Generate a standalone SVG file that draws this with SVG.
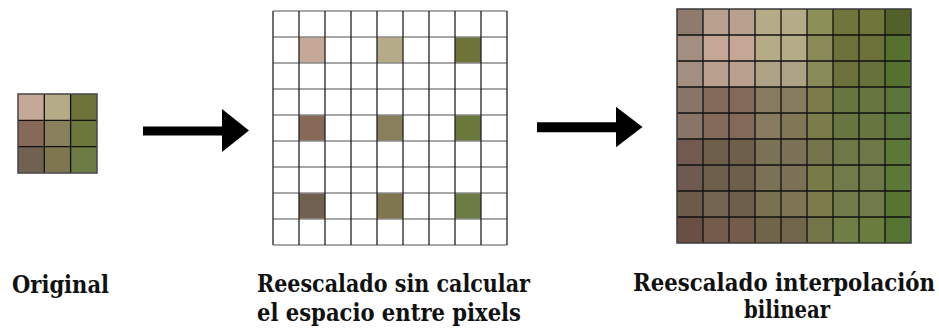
<svg xmlns="http://www.w3.org/2000/svg" width="939" height="329" viewBox="0 0 939 329">
<style>
.lbl{font-family:"DejaVu Serif","Liberation Serif",serif;font-weight:bold;font-size:24px;fill:#111}
.vl{stroke:#222;stroke-width:1.3}
.hl{stroke:#8a8a8a;stroke-width:1.3}
.bl{stroke:#111;stroke-width:1.3}
.arrow{fill:#000}
</style>
<rect width="939" height="329" fill="#fff"/>
<g id="original">
<rect x="18" y="94" width="26.3" height="26.3" fill="#c5a898"/>
<rect x="44.3" y="94" width="26.3" height="26.3" fill="#b6ab87"/>
<rect x="70.6" y="94" width="26.3" height="26.3" fill="#6e7339"/>
<rect x="18" y="120.3" width="26.3" height="26.3" fill="#87695a"/>
<rect x="44.3" y="120.3" width="26.3" height="26.3" fill="#88805c"/>
<rect x="70.6" y="120.3" width="26.3" height="26.3" fill="#6b783c"/>
<rect x="18" y="146.6" width="26.3" height="26.3" fill="#706150"/>
<rect x="44.3" y="146.6" width="26.3" height="26.3" fill="#7f7650"/>
<rect x="70.6" y="146.6" width="26.3" height="26.3" fill="#6b7c44"/>
<path class="bl" d="M44.3 94V173M70.6 94V173M18 120.3H97M18 146.6H97"/>
<rect x="18" y="94" width="79" height="79" fill="none" stroke="#444" stroke-width="1.5"/>
</g>
<g id="sparse">
<rect x="273" y="11" width="234" height="234" fill="#fff"/>
<rect x="299" y="37" width="26" height="26" fill="#c5a898"/>
<rect x="377" y="37" width="26" height="26" fill="#b6ab87"/>
<rect x="455" y="37" width="26" height="26" fill="#6e7339"/>
<rect x="299" y="115" width="26" height="26" fill="#87695a"/>
<rect x="377" y="115" width="26" height="26" fill="#88805c"/>
<rect x="455" y="115" width="26" height="26" fill="#6b783c"/>
<rect x="299" y="193" width="26" height="26" fill="#706150"/>
<rect x="377" y="193" width="26" height="26" fill="#7f7650"/>
<rect x="455" y="193" width="26" height="26" fill="#6b7c44"/>
<path class="hl" d="M273 11H507M273 37H507M273 63H507M273 89H507M273 115H507M273 141H507M273 167H507M273 193H507M273 219H507M273 245H507"/>
<path class="vl" d="M273 11V245M299 11V245M325 11V245M351 11V245M377 11V245M403 11V245M429 11V245M455 11V245M481 11V245M507 11V245"/>
</g>
<g id="bilinear">
<g>
<rect x="677" y="9" width="26" height="26" fill="#8f7b6e"/><rect x="703" y="9" width="26" height="26" fill="#b8a18f"/><rect x="729" y="9" width="26" height="26" fill="#b8a18f"/><rect x="755" y="9" width="26" height="26" fill="#b6ab87"/><rect x="781" y="9" width="26" height="26" fill="#b6ab87"/><rect x="807" y="9" width="26" height="26" fill="#8c8f58"/><rect x="833" y="9" width="26" height="26" fill="#6f763c"/><rect x="859" y="9" width="26" height="26" fill="#6f763c"/><rect x="885" y="9" width="26" height="26" fill="#526129"/>
<rect x="677" y="35" width="26" height="26" fill="#a48e82"/><rect x="703" y="35" width="26" height="26" fill="#c4a796"/><rect x="729" y="35" width="26" height="26" fill="#c4a796"/><rect x="755" y="35" width="26" height="26" fill="#b6ab87"/><rect x="781" y="35" width="26" height="26" fill="#b6ab87"/><rect x="807" y="35" width="26" height="26" fill="#8a8a58"/><rect x="833" y="35" width="26" height="26" fill="#6b7139"/><rect x="859" y="35" width="26" height="26" fill="#6b7139"/><rect x="885" y="35" width="26" height="26" fill="#55702f"/>
<rect x="677" y="61" width="26" height="26" fill="#a48e82"/><rect x="703" y="61" width="26" height="26" fill="#b9a08f"/><rect x="729" y="61" width="26" height="26" fill="#b9a08f"/><rect x="755" y="61" width="26" height="26" fill="#ada284"/><rect x="781" y="61" width="26" height="26" fill="#ada284"/><rect x="807" y="61" width="26" height="26" fill="#888a58"/><rect x="833" y="61" width="26" height="26" fill="#6b7139"/><rect x="859" y="61" width="26" height="26" fill="#67713a"/><rect x="885" y="61" width="26" height="26" fill="#55702f"/>
<rect x="677" y="87" width="26" height="26" fill="#8a7468"/><rect x="703" y="87" width="26" height="26" fill="#82695a"/><rect x="729" y="87" width="26" height="26" fill="#82695a"/><rect x="755" y="87" width="26" height="26" fill="#867a5f"/><rect x="781" y="87" width="26" height="26" fill="#867a5f"/><rect x="807" y="87" width="26" height="26" fill="#7b7c4a"/><rect x="833" y="87" width="26" height="26" fill="#677640"/><rect x="859" y="87" width="26" height="26" fill="#677640"/><rect x="885" y="87" width="26" height="26" fill="#5a753a"/>
<rect x="677" y="113" width="26" height="26" fill="#8a7468"/><rect x="703" y="113" width="26" height="26" fill="#82695a"/><rect x="729" y="113" width="26" height="26" fill="#82695a"/><rect x="755" y="113" width="26" height="26" fill="#867a5f"/><rect x="781" y="113" width="26" height="26" fill="#807757"/><rect x="807" y="113" width="26" height="26" fill="#7b7c4a"/><rect x="833" y="113" width="26" height="26" fill="#677640"/><rect x="859" y="113" width="26" height="26" fill="#677640"/><rect x="885" y="113" width="26" height="26" fill="#5a753a"/>
<rect x="677" y="139" width="26" height="26" fill="#735a50"/><rect x="703" y="139" width="26" height="26" fill="#6d5f4c"/><rect x="729" y="139" width="26" height="26" fill="#6d5f4c"/><rect x="755" y="139" width="26" height="26" fill="#7a7156"/><rect x="781" y="139" width="26" height="26" fill="#7a7156"/><rect x="807" y="139" width="26" height="26" fill="#75744d"/><rect x="833" y="139" width="26" height="26" fill="#6c7845"/><rect x="859" y="139" width="26" height="26" fill="#6c7845"/><rect x="885" y="139" width="26" height="26" fill="#5c7838"/>
<rect x="677" y="165" width="26" height="26" fill="#6e5a50"/><rect x="703" y="165" width="26" height="26" fill="#6d5f4c"/><rect x="729" y="165" width="26" height="26" fill="#6d5f4c"/><rect x="755" y="165" width="26" height="26" fill="#7a7156"/><rect x="781" y="165" width="26" height="26" fill="#7a7156"/><rect x="807" y="165" width="26" height="26" fill="#787a47"/><rect x="833" y="165" width="26" height="26" fill="#6f7b4a"/><rect x="859" y="165" width="26" height="26" fill="#6c7845"/><rect x="885" y="165" width="26" height="26" fill="#5c7838"/>
<rect x="677" y="191" width="26" height="26" fill="#6c5a4b"/><rect x="703" y="191" width="26" height="26" fill="#746553"/><rect x="729" y="191" width="26" height="26" fill="#6d5f4c"/><rect x="755" y="191" width="26" height="26" fill="#7a7150"/><rect x="781" y="191" width="26" height="26" fill="#7f7555"/><rect x="807" y="191" width="26" height="26" fill="#7a7a4a"/><rect x="833" y="191" width="26" height="26" fill="#6f7b4a"/><rect x="859" y="191" width="26" height="26" fill="#707b4a"/><rect x="885" y="191" width="26" height="26" fill="#587433"/>
<rect x="677" y="217" width="26" height="26" fill="#6a4f45"/><rect x="703" y="217" width="26" height="26" fill="#735c4b"/><rect x="729" y="217" width="26" height="26" fill="#735c4b"/><rect x="755" y="217" width="26" height="26" fill="#716549"/><rect x="781" y="217" width="26" height="26" fill="#71664b"/><rect x="807" y="217" width="26" height="26" fill="#737448"/><rect x="833" y="217" width="26" height="26" fill="#6f7e45"/><rect x="859" y="217" width="26" height="26" fill="#6a7d3e"/><rect x="885" y="217" width="26" height="26" fill="#557333"/>
</g>
<path class="bl" d="M703 9V243M729 9V243M755 9V243M781 9V243M807 9V243M833 9V243M859 9V243M885 9V243M677 35H911M677 61H911M677 87H911M677 113H911M677 139H911M677 165H911M677 191H911M677 217H911"/>
<rect x="677" y="9" width="234" height="234" fill="none" stroke="#3a3a3a" stroke-width="1.5"/>
</g>
<g id="connectors">
<polygon class="arrow" points="143,126.5 222,126.5 222,109 249,130.5 222,152 222,135.5 143,135.5"/>
<polygon class="arrow" points="537,122.3 616,122.3 616,106.7 642.5,127 616,147.3 616,132.3 537,132.3"/>
</g>
<g id="labels">
<text class="lbl" x="12" y="293" textLength="97" lengthAdjust="spacingAndGlyphs">Original</text>
<text class="lbl" x="257" y="292" textLength="273" lengthAdjust="spacingAndGlyphs">Reescalado sin calcular</text>
<text class="lbl" x="257" y="321" textLength="264" lengthAdjust="spacingAndGlyphs">el espacio entre pixels</text>
<text class="lbl" x="633" y="291" textLength="302" lengthAdjust="spacingAndGlyphs">Reescalado interpolación</text>
<text class="lbl" x="744" y="318" textLength="86" lengthAdjust="spacingAndGlyphs">bilinear</text>
</g>
</svg>
